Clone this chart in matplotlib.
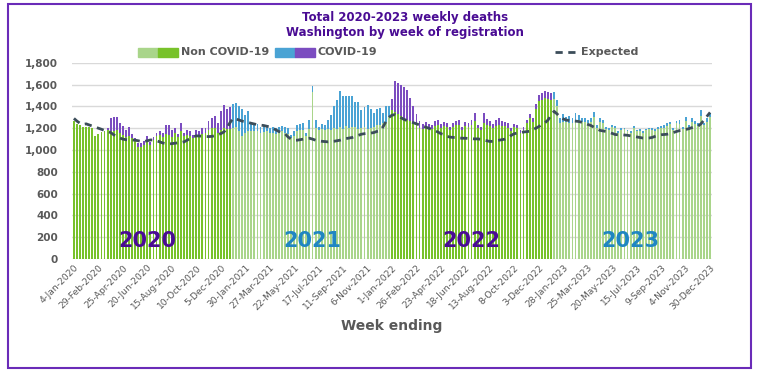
import matplotlib
matplotlib.use("Agg")
import matplotlib.pyplot as plt
from matplotlib.patches import Rectangle
from matplotlib.lines import Line2D
from matplotlib.ticker import FuncFormatter
import numpy as np
import pandas as pd

# week ending dates (Saturday)
weeks = pd.date_range("2020-01-04", "2023-12-30", freq="7D")

non_covid = [
    # 2020
    1265, 1240, 1225, 1210, 1215, 1210, 1200, 1130, 1150, 1165,
    1170, 1180, 1170, 1175, 1180, 1160, 1140, 1120, 1130, 1110,
    1080, 1030, 1030, 1050, 1090, 1050, 1090, 1130, 1140, 1120,
    1150, 1140, 1120, 1160, 1120, 1170, 1130, 1140, 1130, 1110,
    1130, 1140, 1150, 1160, 1180, 1200, 1200, 1160, 1180, 1200,
    1190, 1190,
    # 2021
    1200, 1210, 1170, 1130, 1160, 1170, 1170, 1175, 1170, 1160,
    1165, 1170, 1160, 1160, 1150, 1160, 1175, 1160, 1150, 1110,
    1130, 1170, 1180, 1185, 1125, 1190, 1530, 1200, 1180, 1190,
    1180, 1195, 1185, 1200, 1190, 1210, 1195, 1220, 1200, 1210,
    1210, 1190, 1200, 1210, 1190, 1200, 1210, 1230, 1230, 1250,
    1260, 1300,
    # 2022
    1370, 1350, 1330, 1310, 1290, 1280, 1270, 1250, 1240, 1200,
    1190, 1220, 1200, 1190, 1220, 1230, 1200, 1220, 1210, 1180,
    1210, 1225, 1230, 1180, 1220, 1210, 1230, 1270, 1200, 1180,
    1250, 1230, 1220, 1200, 1220, 1230, 1220, 1220, 1200, 1170,
    1210, 1200, 1160, 1180, 1250, 1290, 1260, 1380, 1450, 1460,
    1480, 1470, 1460,
    # 2023
    1470, 1400, 1250, 1260, 1260, 1250, 1250, 1270, 1280, 1260,
    1260, 1250, 1260, 1300, 1200, 1260, 1250, 1190, 1185, 1210,
    1200, 1160, 1185, 1190, 1170, 1160, 1205, 1170, 1175, 1160,
    1180, 1190, 1185, 1175, 1195, 1200, 1205, 1220, 1235, 1180,
    1245, 1240, 1190, 1270, 1205, 1260, 1240, 1220, 1310, 1230,
    1260, 1300,
]

covid = [
    # 2020
    0, 0, 0, 0, 0, 0, 0, 0, 0, 0,
    5, 20, 120, 130, 120, 90, 80, 65, 80, 40,
    30, 30, 30, 30, 40, 20, 30, 30, 35, 40,
    80, 85, 65, 40, 30, 75, 30, 40, 40, 30,
    50, 30, 50, 40, 90, 90, 110, 90, 175, 215,
    190, 205,
    # 2021
    220, 220, 230, 250, 165, 185, 90, 75, 65, 55,
    65, 50, 40, 55, 55, 55, 45, 50, 50, 30,
    45, 60, 60, 60, 35, 85, 60, 80, 35, 50,
    50, 85, 135, 200, 270, 335, 300, 275, 300, 290,
    230, 250, 170, 185, 220, 175, 130, 145, 155, 90,
    140, 105,
    # 2022
    100, 280, 285, 290, 290, 275, 210, 150, 95, 65,
    45, 40, 40, 40, 45, 45, 40, 40, 40, 35,
    40, 45, 50, 35, 40, 40, 45, 70, 30, 35,
    90, 55, 45, 40, 55, 60, 45, 40, 45, 30,
    30, 30, 20, 30, 30, 45, 35, 40, 55, 60,
    65, 60, 60,
    # 2023
    60, 60, 40, 75, 40, 65, 40, 70, 45, 30,
    35, 30, 30, 50, 25, 30, 30, 20, 20, 20,
    20, 15, 15, 15, 15, 10, 15, 15, 15, 15,
    15, 15, 15, 15, 20, 20, 20, 25, 25, 20,
    25, 35, 20, 30, 25, 30, 25, 30, 60, 20,
    30, 40,
]

expected = [
    # 2020
    1290, 1265, 1245, 1235, 1240, 1230, 1220, 1210, 1200, 1190,
    1180, 1170, 1160, 1140, 1125, 1110, 1100, 1095, 1092, 1092,
    1090, 1085, 1078, 1078, 1085, 1092, 1092, 1085, 1075, 1065,
    1058, 1055, 1058, 1062, 1066, 1068, 1075, 1090, 1105, 1120,
    1130, 1128, 1125, 1123, 1123, 1125, 1130, 1140, 1150, 1165,
    1200, 1250,
    # 2021
    1290, 1285, 1275, 1265, 1260, 1252, 1245, 1238, 1232, 1228,
    1225, 1218, 1212, 1200, 1185, 1170, 1160, 1150, 1120, 1100,
    1090, 1090, 1095, 1100, 1105, 1108, 1100, 1090, 1085, 1080,
    1078, 1075, 1077, 1080, 1085, 1090, 1100, 1105, 1110, 1115,
    1125, 1135, 1145, 1150, 1152, 1155, 1160, 1170, 1175, 1210,
    1260, 1300,
    # 2022
    1320, 1325, 1310, 1295, 1280, 1270, 1262, 1250, 1240, 1230,
    1220, 1210, 1200, 1190, 1180, 1165, 1150, 1140, 1125, 1118,
    1115, 1112, 1110, 1108, 1108, 1106, 1104, 1102, 1102, 1098,
    1092, 1085, 1078, 1080, 1085, 1090, 1095, 1100, 1115, 1135,
    1150, 1155, 1160, 1165, 1168, 1172, 1185, 1200, 1215, 1235,
    1250, 1275, 1320,
    # 2023
    1355, 1330, 1300, 1285, 1275, 1270, 1268, 1265, 1262, 1255,
    1248, 1235, 1225, 1210, 1195, 1180, 1175, 1170, 1162, 1152,
    1142, 1140, 1140, 1138, 1135, 1130, 1125, 1120, 1115, 1110,
    1108, 1110, 1115, 1125, 1135, 1140, 1142, 1145, 1150, 1160,
    1170, 1178, 1182, 1188, 1195, 1205, 1212, 1218, 1240, 1275,
    1310, 1345,
]

years = ["2020", "2021", "2022", "2023"]

# colours
green_dark = "#78c22a"
green_light = "#a9d58a"
purple = "#7b4cc0"
blue = "#4aa3d4"
purple_txt = "#4a0c94"
blue_txt = "#1f86c2"
grey_txt = "#595959"
line_col = "#3c4d5a"

nc_cols = {2020: green_dark, 2021: green_light, 2022: green_dark, 2023: green_light}
cv_cols = {2020: purple, 2021: blue, 2022: purple, 2023: blue}

x = np.arange(len(weeks))
yr = weeks.year
nc_c = [nc_cols[y] for y in yr]
cv_c = [cv_cols[y] for y in yr]

fig = plt.figure(figsize=(7.59, 3.72), dpi=100)
ax = fig.add_axes([0.095, 0.304, 0.843, 0.527])

ax.bar(x, non_covid, width=0.62, color=nc_c, zorder=2)
ax.bar(x, covid, width=0.62, bottom=non_covid, color=cv_c, zorder=2)
ax.plot(x, expected, color=line_col, lw=2.0, dashes=(2.6, 2.0), zorder=3)

ax.set_xlim(-0.6, len(weeks) - 0.4)
ax.set_ylim(0, 1800)
ax.set_yticks(np.arange(0, 1801, 200))
ax.yaxis.set_major_formatter(FuncFormatter(lambda v, p: f"{int(v):,}"))
ax.grid(axis="y", color="#d9d9d9", lw=1, zorder=0)
for s in ax.spines.values():
    s.set_visible(False)
ax.tick_params(axis="y", length=0, pad=10, labelsize=7.5, labelcolor=grey_txt)
for t in ax.get_yticklabels():
    t.set_fontweight("bold")

tick_pos = x[::8]
ax.set_xticks(tick_pos)
ax.set_xticklabels([f"{d.day}-{d.strftime('%b-%Y')}" for d in weeks[::8]],
                   rotation=45, ha="right", rotation_mode="anchor",
                   fontsize=6.6, color=grey_txt)
ax.tick_params(axis="x", length=0, pad=3)
ax.set_xlabel("Week ending", fontsize=10, fontweight="bold", color=grey_txt, labelpad=5)

# year labels
year_x = [24, 78, 130, 182]
year_c = [purple_txt, blue_txt, purple_txt, blue_txt]
for lab, xx, c in zip(years, year_x, year_c):
    ax.text(xx, 75, lab, color=c, fontsize=15, fontweight="bold", ha="center", va="bottom", zorder=4)

# title
fig.text(0.534, 0.952, "Total 2020-2023 weekly deaths", ha="center", va="center",
         fontsize=8.5, fontweight="bold", color=purple_txt)
fig.text(0.534, 0.913, "Washington by week of registration", ha="center", va="center",
         fontsize=8.5, fontweight="bold", color=purple_txt)

# legend (drawn by hand to match spacing)
ly = 1 - 52 / 372
sw_h = 9 / 372
def swatch(x0, c1, c2):
    w = 20 / 759
    fig.add_artist(Rectangle((x0, ly - sw_h / 2), w, sw_h, transform=fig.transFigure, color=c1))
    fig.add_artist(Rectangle((x0 + w, ly - sw_h / 2), w, sw_h, transform=fig.transFigure, color=c2))

swatch(138 / 759, green_light, green_dark)
fig.text(181 / 759, ly, "Non COVID-19", fontsize=8, fontweight="bold", color=grey_txt, va="center")
swatch(275 / 759, blue, purple)
fig.text(318 / 759, ly, "COVID-19", fontsize=8, fontweight="bold", color=grey_txt, va="center")
fig.add_artist(Line2D([555 / 759, 577 / 759], [ly, ly], transform=fig.transFigure,
                      color=line_col, lw=2.0, dashes=(2.6, 2.0)))
fig.text(581 / 759, ly, "Expected", fontsize=8, fontweight="bold", color=grey_txt, va="center")

# outer frame
fig.add_artist(Rectangle((8 / 759, 4 / 372), 743 / 759, 364 / 372, transform=fig.transFigure,
                         fill=False, edgecolor="#6a2bb8", lw=1.5))

fig.savefig("out.png", dpi=100)
